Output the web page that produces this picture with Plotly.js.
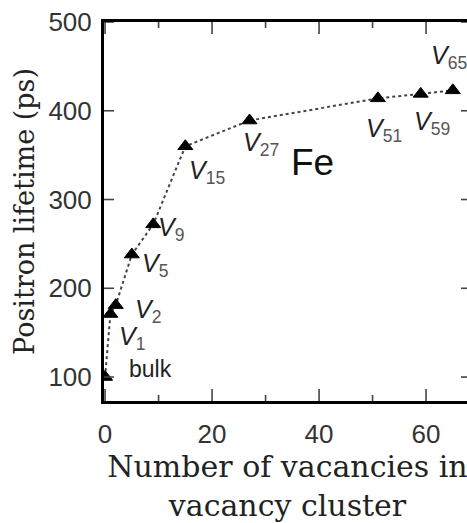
<!DOCTYPE html>
<html>
<head>
<meta charset="utf-8">
<script src="https://cdn.plot.ly/plotly-3.0.1.min.js"></script>
<style>
  html, body { margin: 0; padding: 0; background: #fff; overflow: hidden; }
  #chart { width: 480px; height: 523px; }
</style>
</head>
<body>
<div id="chart"></div>
<script>
// Positron lifetime of vacancy clusters in Fe
const vacancies = [0, 1, 2, 5, 9, 15, 27, 51, 59, 65];
const lifetimes = [100, 171, 181, 238, 272, 360, 389, 414, 419, 423];

// point labels: text and where each sits (data coordinates)
const labelTexts = ['bulk', 'V1', 'V2', 'V5', 'V9', 'V15', 'V27', 'V51', 'V59', 'V65'];
const labelX = [8.4, 5.05, 8.1, 9.25, 12.4, 19.0, 29.2, 52.1, 61.2, 64.2];
const labelY = [109, 143.7, 174, 226.5, 266.9, 330.7, 362, 378.8, 386.7, 461];

const xTickVals = [0, 20, 40, 60];
const xMinorVals = [10, 30, 50];
const yTickVals = [100, 200, 300, 400, 500];
const xRange = [-0.2, 68.4];
const yRange = [73, 500];

const tickFont = { family: 'Liberation Sans, Arial, sans-serif', size: 26, color: '#333' };
const tickColor = '#444';

function labelHtml(t) {
  if (t === 'bulk') return t;
  return '<i>V</i><sub><span style="fill:#555">' + t.slice(1) + '</span></sub>';
}

const annotations = labelTexts.map((t, i) => ({
  x: labelX[i], y: labelY[i], xref: 'x', yref: 'y',
  text: labelHtml(t), showarrow: false,
  xanchor: 'center', yanchor: 'middle',
  font: { family: 'Liberation Sans, Arial, sans-serif', size: t === 'bulk' ? 23 : 25, color: '#222' }
}));

annotations.push({
  x: 38.8, y: 341.9, xref: 'x', yref: 'y', text: 'Fe', showarrow: false,
  xanchor: 'center', yanchor: 'middle',
  font: { family: 'Liberation Sans, Arial, sans-serif', size: 37, color: '#111' }
});

const trace = {
  x: vacancies, y: lifetimes, type: 'scatter', mode: 'lines+markers',
  line: { color: '#444', width: 2, dash: 'dot' },
  marker: { symbol: 'triangle-up', size: 13, color: '#000', line: { color: '#000', width: 1 } },
  hoverinfo: 'skip'
};

// inward tick marks on all four sides, drawn as short pixel-length segments
const shapes = [];
function tickSeg(axis, val, side, len) {
  const line = { color: tickColor, width: 1.6 };
  if (axis === 'x') {
    const anchor = side === 'bottom' ? 0 : 1;
    shapes.push({ type: 'line', xref: 'x', yref: 'paper', x0: val, x1: val,
      ysizemode: 'pixel', yanchor: anchor, y0: 0, y1: side === 'bottom' ? len : -len,
      line: line, layer: 'above' });
  } else {
    const anchor = side === 'left' ? 0 : 1;
    shapes.push({ type: 'line', xref: 'paper', yref: 'y', y0: val, y1: val,
      xsizemode: 'pixel', xanchor: anchor, x0: 0, x1: side === 'left' ? len : -len,
      line: line, layer: 'above' });
  }
}
xTickVals.forEach(v => { tickSeg('x', v, 'bottom', 12); tickSeg('x', v, 'top', 12); });
xMinorVals.forEach(v => { tickSeg('x', v, 'bottom', 6); tickSeg('x', v, 'top', 6); });
yTickVals.forEach(v => { tickSeg('y', v, 'left', 10); tickSeg('y', v, 'right', 10); });

const layout = {
  width: 480, height: 523,
  margin: { l: 104, r: 9, t: 22, b: 122 },
  paper_bgcolor: '#fff', plot_bgcolor: '#fff',
  showlegend: false,
  xaxis: {
    range: xRange,
    tickvals: xTickVals, ticks: '',
    showline: true, linewidth: 3, linecolor: '#000', mirror: true,
    showgrid: false, zeroline: false,
    tickfont: tickFont, ticklabelstandoff: 8,
    title: {
      text: 'Number of vacancies in<br>vacancy cluster',
      font: { family: 'DejaVu Serif, serif', size: 30, color: '#222' },
      standoff: 4
    }
  },
  yaxis: {
    range: yRange,
    tickvals: yTickVals, ticks: '',
    showline: true, linewidth: 3, linecolor: '#000', mirror: true,
    showgrid: false, zeroline: false,
    tickfont: tickFont, ticklabelstandoff: 4,
    title: {
      text: 'Positron lifetime (ps)',
      font: { family: 'DejaVu Serif, serif', size: 27, color: '#222' },
      standoff: 6
    }
  },
  shapes: shapes,
  annotations: annotations
};

Plotly.newPlot('chart', [trace], layout, { displayModeBar: false, staticPlot: true });
</script>
</body>
</html>
